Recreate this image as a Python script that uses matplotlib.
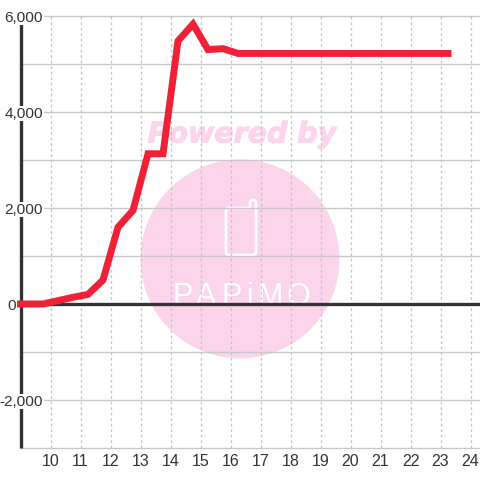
import matplotlib
matplotlib.use("Agg")
import matplotlib.pyplot as plt
import matplotlib.patheffects as pe
from matplotlib.patches import Circle, PathPatch
from matplotlib.path import Path

x_values = [9.0, 9.75, 10.25, 10.75, 11.25, 11.75, 12.25, 12.75, 13.25, 13.75, 14.25, 14.75,
            15.25, 15.75, 16.25, 16.75, 17.25, 17.75, 18.25, 18.75, 19.25, 19.75, 20.25,
            20.75, 21.25, 21.75, 22.25, 22.75, 23.25]
y_values = [0, 0, 70, 140, 200, 500, 1600, 1950, 3130, 3130, 5480, 5830,
            5300, 5320, 5220, 5220, 5220, 5220, 5220, 5220, 5220, 5220, 5220,
            5220, 5220, 5220, 5220, 5220, 5220]
x_ticks = list(range(10, 25))
y_major = [-2000, 0, 2000, 4000, 6000]
y_labels = ["-2,000", "0", "2,000", "4,000", "6,000"]
y_label_right = [43, 16, 43, 43, 43]
y_minor = [-3000, -1000, 1000, 3000, 5000]

W = 480
plt.rcParams['font.family'] = ['Liberation Sans', 'DejaVu Sans']
fig = plt.figure(figsize=(4.8, 4.8), dpi=100)
ax = fig.add_axes([20.5 / W, 32 / W, 459.5 / W, 432 / W])
ax.set_xlim(9, 9 + 459.5 / 30)
ax.set_ylim(-3000, 6000)
ax.patch.set_alpha(0)
for s in ax.spines.values():
    s.set_visible(False)

# watermark, placed in figure pixels
pink = '#fbd5ec'
wm = fig.add_axes([0, 0, 1, 1], zorder=-1)
wm.set_xlim(0, W); wm.set_ylim(W, 0); wm.axis('off')
wm.add_patch(Circle((240, 259), 99.5, fc=pink, ec='none'))
wm.text(242, 134.5, 'Powered by', color=pink, fontsize=20.5, family='DejaVu Sans',
        weight='bold', style='italic', ha='center', va='center',
        path_effects=[pe.withStroke(linewidth=0.8, foreground=pink)])
C3, L, M = Path.CURVE3, Path.LINETO, Path.MOVETO
phone = Path([(250, 208), (229, 208), (226, 208), (226, 211), (226, 252), (226, 255), (229, 255),
              (253, 255), (256, 255), (256, 252), (256, 203), (256, 200), (253, 200),
              (250, 200), (250, 203), (250, 208)],
             [M, L, C3, C3, L, C3, C3, L, C3, C3, L, C3, C3, C3, C3, L])
wm.add_patch(PathPatch(phone, fc='none', ec='white', lw=1.9))
for letter, px in zip('PAPiMO', [183, 206, 232, 250, 270, 298]):
    wm.text(px, 305, letter, color='white', fontsize=22, family='Liberation Sans',
            ha='center', va='baseline')

# grid
for y in y_major + y_minor:
    ax.axhline(y, color='#c8c8c8', lw=1.0, zorder=1, clip_on=False)
ax.set_xticks(x_ticks)
ax.set_yticks([])
ax.tick_params(axis='x', length=0, pad=4.5, labelsize=11.5, labelcolor='#333333')
ax.grid(False)
for x in x_ticks:
    ax.axvline(x, color='#c4c4c4', lw=0.9, ls=(0, (2.2, 2.2)), zorder=1)

ax.axvline(9, color='#333333', lw=2.4, zorder=2, clip_on=False, solid_capstyle='butt')
ax.axhline(0, color='#333333', lw=2.4, zorder=2, solid_capstyle='butt')

# y labels sit on top of the axis with a white backing
for y, lab, right in zip(y_major, y_labels, y_label_right):
    ax.annotate(lab, xy=(0, y), xycoords=('axes fraction', 'data'), xytext=(right - 20.5, -1.5),
                textcoords='offset pixels', ha='right', va='center', fontsize=11.1,
                color='#333333', zorder=3, annotation_clip=False,
                bbox=dict(fc='white', ec='none', pad=0.5))

ax.plot(x_values, y_values, color='#f02036', lw=5.0, solid_joinstyle='miter',
        solid_capstyle='projecting', zorder=4, clip_on=False)

fig.savefig('out.png', dpi=100, facecolor='white')
